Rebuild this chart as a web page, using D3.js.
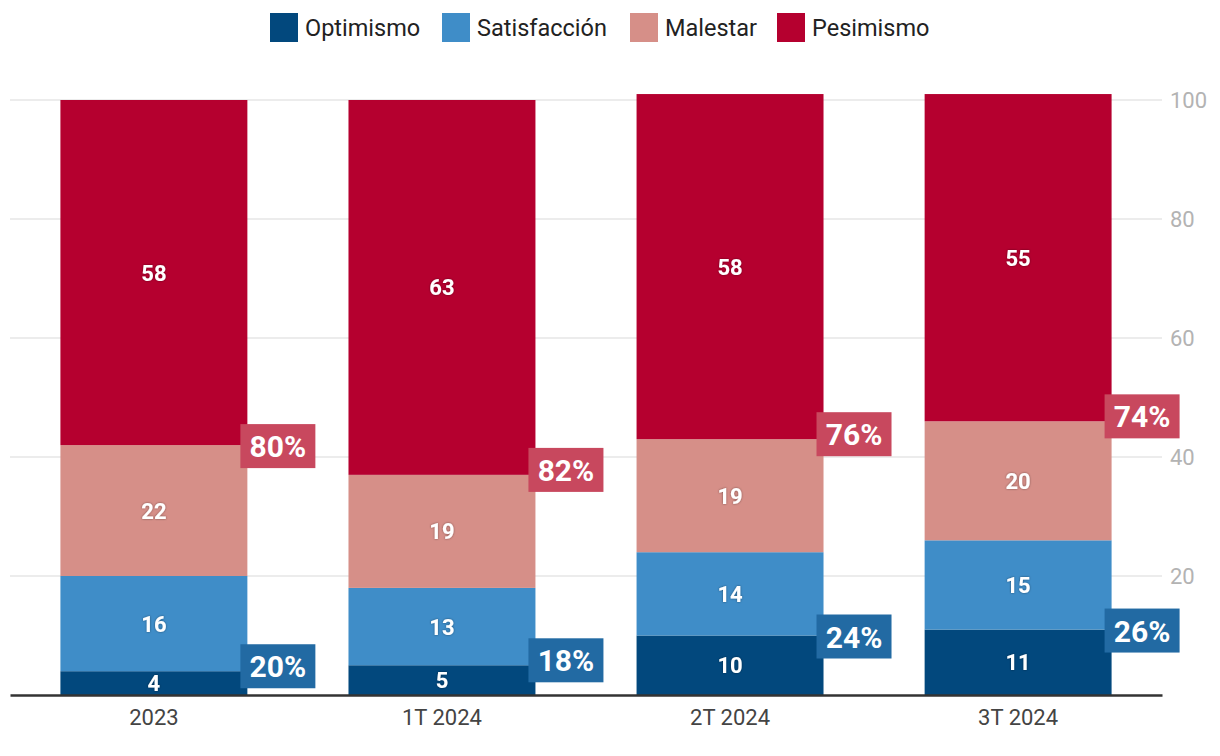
<!DOCTYPE html>
<html><head><meta charset="utf-8">
<script src="https://cdn.jsdelivr.net/npm/d3@7"></script>
<style>body{margin:0;background:#fff;} text{font-family:Roboto, "Noto Sans", sans-serif;}</style>
</head><body><svg id="c" width="1220" height="756"></svg>
<script>
const categories = ["2023", "1T 2024", "2T 2024", "3T 2024"];
const seriesNames = ["Optimismo", "Satisfacción", "Malestar", "Pesimismo"];
const optimismo = [4, 5, 10, 11];
const satisfaccion = [16, 13, 14, 15];
const malestar = [22, 19, 19, 20];
const pesimismo = [58, 63, 58, 55];
const positiveTotals = ["20%", "18%", "24%", "26%"];
const negativeTotals = ["80%", "82%", "76%", "74%"];
// anchor heights (in chart units) where the total labels sit
const positiveAnchor = [5, 6, 10, 11];
const negativeAnchor = [42, 38, 44, 47];
const yTicks = [20, 40, 60, 80, 100];
const colors = ["#02487d", "#3f8dc8", "#d68f88", "#b5002f"];

const svg = d3.select("#c");
const x = d3.scaleBand().domain(categories).range([10, 1162]).paddingInner(0.351).paddingOuter(0.175);
const y = d3.scaleLinear().domain([0, 100]).range([695, 100]);

// gridlines
svg.append("g").selectAll("line").data(yTicks).join("line")
  .attr("x1", 10).attr("x2", 1162).attr("y1", d => y(d)).attr("y2", d => y(d))
  .attr("stroke", "#e6e6e6").attr("stroke-width", 1.5);
// right axis labels
const yAxis = d3.axisRight(y).tickValues(yTicks).tickSize(0).tickPadding(0);
const ya = svg.append("g").attr("transform", "translate(1170,0)").call(yAxis);
ya.select(".domain").remove();
ya.selectAll("text").attr("fill", "#b3b3b3").style("font-size", "22px").style("font-family", "Roboto, sans-serif");

const rows = categories.map((c, i) => ({cat: c, Optimismo: optimismo[i], "Satisfacción": satisfaccion[i], Malestar: malestar[i], Pesimismo: pesimismo[i]}));
const stack = d3.stack().keys(seriesNames)(rows);

const defs = svg.append("defs");
const f = defs.append("filter").attr("id", "sh").attr("x", "-20%").attr("y", "-20%").attr("width", "140%").attr("height", "140%");
f.append("feDropShadow").attr("dx", 0).attr("dy", 0).attr("stdDeviation", 1.2).attr("flood-color", "#000").attr("flood-opacity", 0.45);

const g = svg.append("g");
stack.forEach((s, si) => {
  g.append("g").selectAll("rect").data(s).join("rect")
    .attr("x", d => x(d.data.cat)).attr("width", x.bandwidth())
    .attr("y", d => y(d[1])).attr("height", d => y(d[0]) - y(d[1]))
    .attr("fill", colors[si]);
});
stack.forEach((s, si) => {
  g.append("g").selectAll("text").data(s).join("text")
    .attr("x", d => x(d.data.cat) + x.bandwidth() / 2)
    .attr("y", d => (y(d[0]) + y(d[1])) / 2 + 8)
    .attr("text-anchor", "middle").attr("fill", "#fff")
    .attr("filter", "url(#sh)")
    .style("font-size", "22px").style("font-weight", "700")
    .text(d => d[1] - d[0]);
});

// x axis
const xAxis = d3.axisBottom(x).tickSize(0).tickPadding(14);
const xa = svg.append("g").attr("transform", "translate(0,695)").call(xAxis);
xa.select(".domain").attr("stroke", "#333").attr("stroke-width", 2.5);
xa.selectAll("text").attr("fill", "#444").style("font-size", "22px").style("font-family", "Roboto, sans-serif");

// annotation boxes
function addBox(cat, yVal, label, fill) {
  const bx = x(cat) + x.bandwidth() - 7;
  const top = y(yVal) - 21;
  const bg = svg.append("g");
  bg.append("rect").attr("x", bx).attr("y", top).attr("width", 75).attr("height", 44).attr("fill", fill);
  bg.append("text").attr("x", bx + 37.5).attr("y", top + 33).attr("text-anchor", "middle")
    .attr("fill", "#fff").style("font-size", "30px").style("font-weight", "700").text(label);
}
categories.forEach((c, i) => {
  addBox(c, negativeAnchor[i], negativeTotals[i], "#c8485e");
  addBox(c, positiveAnchor[i], positiveTotals[i], "#226aa3");
});

// legend
const legendX = [270, 442, 630, 777];
const lg = svg.append("g");
seriesNames.forEach((n, i) => {
  lg.append("rect").attr("x", legendX[i]).attr("y", 13).attr("width", 28).attr("height", 29).attr("fill", colors[i]);
  lg.append("text").attr("x", legendX[i] + 35).attr("y", 36).attr("fill", "#222")
    .style("font-size", "23.5px").text(n);
});
</script></body></html>
